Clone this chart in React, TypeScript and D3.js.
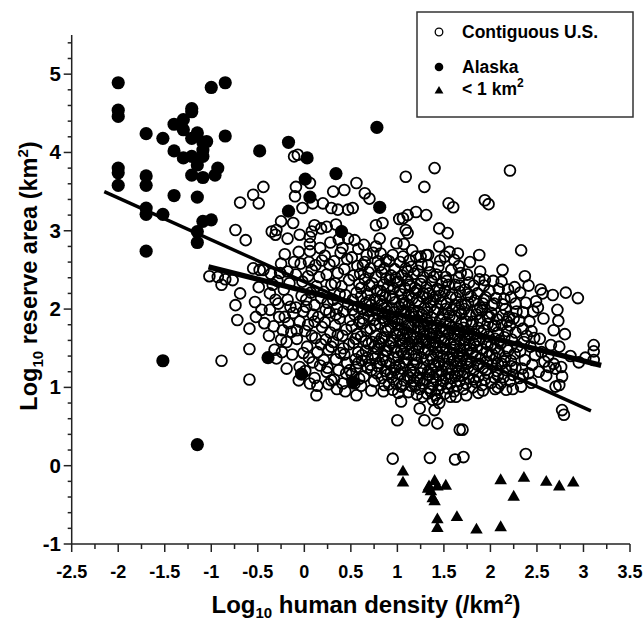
import React from "react";
import * as d3 from "d3";

// log10 human density (x) vs log10 reserve area (y)
const alaska: [number, number][] = [
  [-2.0, 4.89], [-2.0, 4.54], [-2.0, 4.46], [-2.0, 3.8], [-2.0, 3.74], [-2.0, 3.58],
  [-1.7, 4.24], [-1.7, 3.7], [-1.7, 3.58], [-1.7, 3.29], [-1.7, 3.21], [-1.7, 2.74],
  [-1.52, 4.18], [-1.52, 3.21], [-1.52, 1.34],
  [-1.4, 4.36], [-1.4, 4.02], [-1.4, 3.45],
  [-1.3, 4.42], [-1.3, 4.29], [-1.3, 3.93],
  [-1.21, 4.56], [-1.21, 4.52], [-1.21, 4.18], [-1.21, 3.95], [-1.21, 3.71],
  [-1.15, 4.25], [-1.15, 3.84], [-1.15, 3.43], [-1.15, 2.99], [-1.15, 2.85], [-1.15, 0.27],
  [-1.09, 4.13], [-1.09, 4.03], [-1.09, 3.95], [-1.09, 3.68], [-1.09, 3.12], [-1.05, 4.14],
  [-1.0, 3.14], [-1.0, 4.83], [-0.85, 4.89], [-0.85, 4.21], [-0.93, 3.8], [-0.96, 3.71],
  [-0.48, 4.02], [-0.17, 4.13], [0.03, 3.93], [0.01, 3.66], [0.06, 3.43], [-0.17, 3.25],
  [0.34, 3.73], [0.4, 2.99], [0.78, 4.32], [0.81, 3.3],
  [-0.39, 1.38], [-0.03, 1.17], [0.52, 1.07],
];

const underOneKm: [number, number][] = [
  [1.06, -0.08], [1.06, -0.22], [1.33, -0.3], [1.34, -0.27], [1.4, -0.2], [1.43, -0.27],
  [1.52, -0.26], [1.36, -0.33], [1.38, -0.42], [1.4, -0.46], [1.43, -0.69], [1.43, -0.8],
  [1.64, -0.66], [1.85, -0.82], [2.11, -0.79], [2.25, -0.4], [2.11, -0.19], [2.36, -0.16],
  [2.6, -0.21], [2.74, -0.27], [2.89, -0.22],
];

const usOuter: [number, number][] = [
  [-1.02, 2.42], [-0.93, 2.41], [-0.89, 2.31], [-0.85, 2.38], [-0.77, 2.37], [-0.89, 1.34],
  [-0.74, 3.01], [-0.74, 2.05], [-0.69, 3.36], [-0.69, 2.2], [-0.72, 1.86], [-0.63, 2.88],
  [-0.59, 1.49], [-0.59, 1.1], [-0.59, 1.75], [-0.55, 3.46], [-0.55, 2.52], [-0.53, 2.09],
  [-0.49, 3.35], [-0.48, 2.5], [-0.46, 1.99], [-0.44, 3.56], [-0.44, 2.5], [-0.52, 1.9],
  [-0.43, 1.82], [-0.49, 2.28],
  [-0.11, 3.95], [-0.07, 3.97], [-0.09, 3.56], [-0.1, 3.44], [0.06, 3.61], [0.09, 3.35],
  [-0.02, 3.29], [0.2, 3.35], [0.31, 3.5], [0.43, 3.52], [0.56, 3.61], [0.65, 3.48],
  [0.7, 3.41], [0.29, 3.29], [0.36, 3.27], [0.47, 3.27], [0.52, 3.29], [0.77, 3.07],
  [0.84, 3.1], [1.02, 3.15], [-0.25, 3.12], [-0.12, 3.1], [-0.35, 2.99], [-0.31, 2.95],
  [-0.3, 3.01], [-0.18, 2.9], [-0.05, 2.95], [0.08, 2.99], [0.18, 3.03], [0.11, 3.07],
  [0.24, 3.05], [0.34, 3.08], [0.4, 2.99],
  [1.09, 3.69], [1.4, 3.8], [1.29, 3.56], [1.06, 3.16], [1.11, 3.2], [1.2, 3.24],
  [1.31, 3.2], [1.09, 3.01], [1.45, 3.03], [1.54, 2.97], [1.55, 3.35], [1.6, 3.3],
  [1.98, 3.34], [1.94, 3.39], [2.21, 3.77], [2.33, 2.75], [1.88, 2.69], [2.13, 2.5],
  [0.99, 2.84], [1.11, 2.97], [1.16, 2.75], [1.45, 2.8], [1.51, 2.67], [1.56, 2.73],
  [1.0, 0.58], [1.29, 0.58], [1.24, 0.73], [1.38, 0.84], [1.4, 0.71], [1.43, 0.54],
  [1.45, 0.8], [1.63, 0.88], [1.67, 0.46], [1.7, 0.46], [0.95, 0.09], [1.62, 0.08],
  [1.71, 0.11], [2.38, 0.15], [2.77, 0.71], [2.79, 0.65], [0.56, 0.9], [0.13, 0.9],
  [-0.3, 1.37], [-0.19, 1.24], [-0.06, 1.09],
];

const usCoreLeft: [number, number][] = [
  [-0.37, 2.2], [-0.34, 2.31], [-0.37, 1.99], [-0.32, 1.48], [-0.38, 1.66], [-0.33, 1.78],
  [-0.36, 2.45], [-0.31, 2.12], [-0.28, 2.07], [-0.26, 2.46], [-0.25, 2.58], [-0.23, 1.73],
  [-0.25, 1.61], [-0.27, 1.9], [-0.22, 2.25], [-0.29, 2.36], [-0.24, 1.45], [-0.21, 2.7],
  [-0.18, 2.12], [-0.21, 1.9], [-0.19, 1.58], [-0.14, 1.71], [-0.12, 1.95], [-0.18, 2.48],
  [-0.16, 2.33], [-0.13, 1.42], [-0.11, 2.6], [-0.15, 2.03], [-0.17, 1.82],
  [-0.05, 1.84], [-0.05, 1.26], [-0.01, 1.44], [-0.09, 2.44], [-0.06, 2.73], [-0.08, 1.62],
  [-0.03, 2.17], [-0.09, 2.02], [-0.02, 2.35], [-0.04, 2.58], [-0.08, 1.73], [-0.01, 1.97],
  [0.04, 1.8], [0.02, 2.03], [0.06, 1.05], [0.09, 1.32], [0.06, 2.92], [0.06, 2.83],
  [0.06, 2.74], [0.05, 2.6], [0.03, 1.52], [0.08, 1.66], [0.01, 1.21], [0.07, 2.21],
  [0.04, 2.42], [0.09, 1.93], [0.02, 2.12], [0.05, 1.38], [0.08, 2.5], [0.01, 1.72],
  [0.11, 1.12], [0.14, 1.45], [0.17, 1.28], [0.12, 1.63], [0.19, 1.77], [0.15, 1.9],
  [0.11, 2.05], [0.18, 2.14], [0.13, 2.29], [0.16, 2.41], [0.12, 2.56], [0.19, 2.62],
  [0.14, 1.02], [0.17, 2.78], [0.11, 1.84], [0.18, 1.55],
  [0.24, 1.2], [0.29, 1.09], [0.21, 1.35], [0.26, 1.48], [0.23, 1.61], [0.28, 1.7],
  [0.22, 1.83], [0.27, 1.96], [0.25, 2.08], [0.21, 2.22], [0.29, 2.31], [0.24, 2.44],
  [0.27, 2.57], [0.22, 2.68], [0.26, 1.04], [0.28, 2.85], [0.23, 1.99], [0.29, 1.52],
  [0.25, 1.25],
  [0.32, 1.1], [0.37, 1.22], [0.34, 1.36], [0.39, 1.44], [0.31, 1.58], [0.36, 1.67],
  [0.33, 1.79], [0.38, 1.88], [0.35, 2.01], [0.31, 2.12], [0.38, 2.19], [0.33, 2.33],
  [0.36, 2.46], [0.32, 2.61], [0.39, 2.72], [0.35, 0.98], [0.37, 2.89], [0.34, 1.93],
  [0.45, 1.18], [0.41, 1.05], [0.46, 1.31], [0.43, 1.42], [0.48, 1.55], [0.41, 1.66],
  [0.45, 1.74], [0.49, 1.86], [0.42, 1.97], [0.47, 2.06], [0.44, 2.18], [0.4, 2.29],
  [0.48, 2.37], [0.43, 2.51], [0.46, 2.64], [0.41, 2.78], [0.49, 1.22], [0.44, 0.95],
  [0.47, 2.9], [0.42, 1.5],
];

const usCoreMid: [number, number][] = [
  [0.56, 1.26], [0.54, 1.05], [0.51, 1.17], [0.55, 1.36], [0.58, 1.45], [0.53, 1.57],
  [0.57, 1.68], [0.51, 1.78], [0.59, 1.84], [0.54, 1.93], [0.58, 2.03], [0.52, 2.12],
  [0.56, 2.21], [0.59, 2.32], [0.53, 2.43], [0.57, 2.55], [0.51, 2.66], [0.58, 2.77],
  [0.55, 1.62], [0.52, 1.99], [0.59, 1.11], [0.54, 2.88],
  [0.65, 2.6], [0.61, 1.02], [0.64, 1.14], [0.68, 1.25], [0.62, 1.34], [0.66, 1.47],
  [0.69, 1.56], [0.61, 1.65], [0.67, 1.73], [0.63, 1.82], [0.69, 1.91], [0.62, 2.0],
  [0.66, 2.08], [0.68, 2.19], [0.61, 2.27], [0.65, 2.38], [0.69, 2.47], [0.63, 2.56],
  [0.67, 2.69], [0.62, 1.41], [0.68, 1.98], [0.64, 2.82],
  [0.77, 2.8], [0.72, 0.96], [0.75, 1.08], [0.78, 1.18], [0.71, 1.29], [0.76, 1.37],
  [0.79, 1.49], [0.73, 1.58], [0.77, 1.66], [0.71, 1.75], [0.75, 1.86], [0.79, 1.94],
  [0.72, 2.05], [0.76, 2.13], [0.78, 2.24], [0.73, 2.33], [0.77, 2.41], [0.71, 2.52],
  [0.79, 2.61], [0.74, 2.72], [0.75, 1.52], [0.78, 2.0], [0.72, 1.22],
  [0.81, 2.9], [0.82, 2.71], [0.88, 2.63], [0.81, 2.56], [0.86, 1.03], [0.83, 1.12],
  [0.87, 1.21], [0.81, 1.31], [0.85, 1.4], [0.89, 1.47], [0.82, 1.56], [0.86, 1.64],
  [0.88, 1.72], [0.81, 1.81], [0.84, 1.89], [0.89, 1.97], [0.83, 2.06], [0.87, 2.15],
  [0.82, 2.23], [0.85, 2.31], [0.88, 2.39], [0.83, 2.47], [0.86, 2.52], [0.89, 1.16],
  [0.84, 1.35], [0.87, 1.85], [0.81, 2.11], [0.85, 0.95],
  [0.95, 0.97], [0.91, 1.04], [0.94, 1.13], [0.97, 1.22], [0.92, 1.3], [0.96, 1.38],
  [0.99, 1.45], [0.91, 1.53], [0.95, 1.6], [0.98, 1.69], [0.93, 1.77], [0.97, 1.84],
  [0.91, 1.92], [0.94, 2.01], [0.98, 2.09], [0.92, 2.17], [0.96, 2.26], [0.99, 2.34],
  [0.93, 2.43], [0.97, 2.51], [0.91, 2.61], [0.95, 2.69], [0.98, 1.26], [0.93, 1.57],
  [0.96, 1.96], [0.92, 2.37], [0.99, 1.05],
  [1.06, 1.03], [1.06, 2.67], [1.01, 0.93], [1.04, 1.01], [1.07, 1.09], [1.02, 1.17],
  [1.05, 1.24], [1.08, 1.32], [1.01, 1.39], [1.04, 1.46], [1.09, 1.52], [1.03, 1.6],
  [1.06, 1.67], [1.08, 1.74], [1.01, 1.81], [1.05, 1.88], [1.09, 1.96], [1.02, 2.03],
  [1.06, 2.11], [1.04, 2.19], [1.08, 2.27], [1.01, 2.35], [1.05, 2.43], [1.09, 2.52],
  [1.03, 2.6], [1.07, 1.43], [1.02, 1.73], [1.08, 2.08], [1.04, 0.82], [1.07, 2.83],
  [1.12, 0.94], [1.15, 1.02], [1.18, 1.08], [1.11, 1.15], [1.14, 1.22], [1.17, 1.29],
  [1.19, 1.36], [1.12, 1.42], [1.16, 1.49], [1.13, 1.56], [1.18, 1.63], [1.11, 1.7],
  [1.15, 1.77], [1.19, 1.84], [1.13, 1.91], [1.17, 1.98], [1.12, 2.05], [1.16, 2.13],
  [1.19, 2.21], [1.14, 2.29], [1.11, 2.37], [1.18, 2.45], [1.15, 2.54], [1.13, 2.62],
  [1.17, 1.19], [1.14, 1.66], [1.19, 1.02], [1.12, 2.18],
];

const usCoreRight: [number, number][] = [
  [1.2, 2.67], [1.25, 2.67], [1.21, 0.91], [1.24, 0.98], [1.27, 1.05], [1.22, 1.12],
  [1.25, 1.18], [1.28, 1.25], [1.21, 1.31], [1.26, 1.38], [1.29, 1.44], [1.23, 1.51],
  [1.27, 1.58], [1.21, 1.64], [1.24, 1.71], [1.28, 1.78], [1.22, 1.85], [1.26, 1.93],
  [1.29, 2.01], [1.23, 2.08], [1.27, 2.16], [1.21, 2.24], [1.25, 2.32], [1.28, 2.41],
  [1.22, 2.49], [1.26, 2.57], [1.24, 1.09], [1.28, 1.68], [1.23, 1.97], [1.27, 0.88],
  [1.33, 2.69], [1.31, 2.69], [1.35, 0.1], [1.32, 0.92], [1.35, 0.99], [1.38, 1.04],
  [1.31, 1.1], [1.34, 1.16], [1.37, 1.23], [1.39, 1.29], [1.32, 1.35], [1.36, 1.41],
  [1.33, 1.48], [1.38, 1.54], [1.31, 1.61], [1.35, 1.68], [1.39, 1.75], [1.33, 1.82],
  [1.37, 1.89], [1.32, 1.96], [1.36, 2.04], [1.39, 2.12], [1.34, 2.2], [1.31, 2.28],
  [1.37, 2.36], [1.35, 2.47], [1.33, 2.56], [1.38, 1.13], [1.34, 1.58], [1.36, 0.95],
  [1.42, 2.44], [1.41, 0.9], [1.44, 0.97], [1.47, 1.03], [1.42, 1.09], [1.45, 1.15],
  [1.48, 1.21], [1.41, 1.27], [1.44, 1.33], [1.49, 1.39], [1.43, 1.45], [1.46, 1.52],
  [1.41, 1.58], [1.45, 1.65], [1.48, 1.72], [1.42, 1.79], [1.46, 1.86], [1.49, 1.93],
  [1.43, 2.0], [1.47, 2.08], [1.41, 2.16], [1.45, 2.24], [1.48, 2.33], [1.44, 2.54],
  [1.46, 2.62], [1.42, 1.2], [1.47, 1.62], [1.43, 0.85],
  [1.52, 2.41], [1.51, 0.92], [1.54, 0.99], [1.57, 1.05], [1.52, 1.11], [1.55, 1.17],
  [1.58, 1.23], [1.51, 1.3], [1.56, 1.36], [1.59, 1.42], [1.53, 1.48], [1.57, 1.55],
  [1.51, 1.62], [1.55, 1.69], [1.58, 1.76], [1.52, 1.83], [1.56, 1.91], [1.59, 1.99],
  [1.53, 2.07], [1.57, 2.15], [1.51, 2.23], [1.55, 2.31], [1.58, 2.5], [1.54, 1.26],
  [1.52, 1.72], [1.57, 0.88],
  [1.61, 2.63], [1.65, 2.71], [1.68, 2.46], [1.61, 0.95], [1.64, 1.02], [1.67, 1.08],
  [1.62, 1.14], [1.66, 1.21], [1.69, 1.27], [1.61, 1.34], [1.65, 1.4], [1.68, 1.47],
  [1.63, 1.54], [1.67, 1.61], [1.61, 1.68], [1.64, 1.75], [1.69, 1.83], [1.62, 1.9],
  [1.66, 1.98], [1.69, 2.06], [1.63, 2.14], [1.67, 2.22], [1.62, 2.31], [1.66, 2.4],
  [1.64, 1.18], [1.68, 1.7], [1.66, 2.55],
  [1.75, 2.44], [1.71, 0.98], [1.74, 1.05], [1.77, 1.12], [1.72, 1.19], [1.76, 1.26],
  [1.79, 1.33], [1.71, 1.4], [1.75, 1.47], [1.78, 1.54], [1.73, 1.61], [1.77, 1.69],
  [1.71, 1.76], [1.74, 1.84], [1.78, 1.92], [1.72, 2.0], [1.76, 2.08], [1.79, 2.16],
  [1.73, 2.25], [1.77, 2.34], [1.75, 1.3], [1.72, 1.55], [1.78, 2.6], [1.74, 0.9],
];

// extra sites crowded into the darkest part of the cloud
const usCoreDense: [number, number][] = [
  [0.58, 1.31], [0.63, 1.88], [0.66, 1.59], [0.7, 2.11], [0.74, 1.43], [0.76, 1.79],
  [0.79, 1.27], [0.83, 1.63], [0.86, 2.01], [0.88, 1.33], [0.9, 1.74], [0.93, 1.19],
  [0.95, 2.13], [0.97, 1.51], [1.0, 1.87], [1.02, 1.29], [1.03, 2.24], [1.05, 1.56],
  [1.07, 1.97], [1.1, 1.36], [1.11, 1.79], [1.13, 2.31], [1.14, 1.12], [1.16, 1.58],
  [1.18, 1.9], [1.2, 1.41], [1.21, 2.11], [1.23, 1.76], [1.25, 1.24], [1.26, 1.62],
  [1.28, 2.2], [1.3, 1.48], [1.31, 1.86], [1.33, 1.2], [1.35, 2.09], [1.37, 1.64],
  [1.38, 1.36], [1.4, 1.96], [1.41, 1.51], [1.43, 2.26], [1.45, 1.3], [1.47, 1.77],
  [1.49, 1.08], [1.5, 1.58], [1.52, 2.0], [1.54, 1.38], [1.56, 1.8], [1.58, 1.12],
  [1.6, 1.51], [1.62, 2.05], [1.63, 1.27], [1.65, 1.66], [1.67, 1.43], [1.69, 1.94],
  [1.7, 1.15], [1.72, 1.71], [1.74, 1.35], [1.76, 2.19], [1.78, 1.49], [1.8, 1.8],
  [1.82, 1.1], [1.84, 1.6], [1.86, 1.99], [1.88, 1.3], [1.9, 1.69], [1.93, 2.12],
  [1.95, 1.22], [1.97, 1.55], [1.99, 1.9], [2.02, 1.42], [2.05, 1.79], [2.08, 1.15],
  [2.1, 1.6], [2.13, 2.06], [2.15, 1.33], [2.18, 1.5], [2.2, 1.9], [2.23, 1.27],
  [0.61, 2.16], [0.68, 1.38], [0.73, 1.98], [0.8, 1.58], [0.87, 1.47], [0.94, 1.88],
  [1.0, 1.66], [1.08, 1.62], [1.15, 1.95], [1.22, 1.55], [1.29, 1.72], [1.36, 1.76],
  [1.42, 1.69], [1.49, 1.5], [1.55, 1.95], [1.61, 1.61], [1.68, 1.33], [1.75, 1.64],
  [1.82, 1.56], [1.89, 1.85], [0.9, 2.28], [1.05, 2.06], [1.19, 2.27], [1.32, 2.14],
  [1.46, 2.17], [1.59, 2.19], [1.73, 2.05], [0.84, 2.18], [0.98, 2.4], [1.11, 2.48],
  [1.26, 2.36], [1.39, 2.41], [1.53, 2.36], [1.67, 2.3], [0.7, 2.3], [0.6, 2.45],
];

const usEast: [number, number][] = [
  [1.89, 2.48], [1.81, 1.0], [1.84, 1.07], [1.87, 1.14], [1.82, 1.22], [1.86, 1.29],
  [1.89, 1.37], [1.81, 1.44], [1.85, 1.52], [1.88, 1.6], [1.83, 1.68], [1.87, 1.76],
  [1.81, 1.84], [1.85, 1.93], [1.89, 2.02], [1.83, 2.11], [1.86, 2.2], [1.82, 2.3],
  [1.88, 2.38], [1.84, 1.4], [1.87, 0.93],
  [1.94, 2.37], [1.92, 2.07], [1.97, 1.9], [1.91, 1.03], [1.94, 1.1], [1.97, 1.18],
  [1.92, 1.25], [1.96, 1.33], [1.99, 1.41], [1.91, 1.49], [1.95, 1.57], [1.98, 1.65],
  [1.93, 1.73], [1.97, 1.81], [1.91, 1.98], [1.95, 2.15], [1.99, 2.23], [1.93, 2.3],
  [1.96, 1.45], [1.92, 0.96],
  [2.02, 2.05], [2.04, 2.07], [2.05, 1.5], [2.08, 1.3], [2.01, 1.06], [2.04, 1.13],
  [2.07, 1.21], [2.02, 1.29], [2.06, 1.37], [2.09, 1.45], [2.01, 1.54], [2.05, 1.62],
  [2.08, 1.7], [2.03, 1.78], [2.07, 1.87], [2.01, 1.95], [2.06, 2.14], [2.09, 2.26],
  [2.03, 2.36], [2.05, 0.98], [2.08, 1.0],
  [2.15, 2.13], [2.13, 1.92], [2.18, 1.84], [2.11, 1.05], [2.14, 1.13], [2.17, 1.22],
  [2.12, 1.3], [2.16, 1.39], [2.19, 1.47], [2.11, 1.56], [2.15, 1.64], [2.18, 1.72],
  [2.12, 1.8], [2.16, 2.0], [2.19, 2.25], [2.12, 2.35], [2.17, 0.97],
  [2.27, 2.07], [2.21, 1.08], [2.24, 1.16], [2.27, 1.25], [2.22, 1.34], [2.26, 1.43],
  [2.29, 1.52], [2.23, 1.61], [2.27, 1.7], [2.21, 1.79], [2.25, 1.88], [2.28, 1.97],
  [2.22, 2.15], [2.26, 2.28], [2.24, 0.98],
  [2.35, 1.75], [2.35, 1.16], [2.33, 1.01], [2.31, 1.12], [2.34, 1.24], [2.37, 1.35],
  [2.32, 1.46], [2.36, 1.58], [2.39, 1.66], [2.31, 1.85], [2.35, 1.96], [2.38, 2.08],
  [2.32, 2.21], [2.37, 2.42],
  [2.44, 1.72], [2.41, 1.18], [2.45, 1.29], [2.48, 1.41], [2.43, 1.52], [2.47, 1.63],
  [2.42, 1.84], [2.46, 1.97], [2.49, 2.1], [2.44, 1.06], [2.41, 2.3],
  [2.58, 1.33], [2.63, 1.26], [2.7, 1.24], [2.76, 1.26], [2.77, 1.14], [2.74, 1.03],
  [2.7, 1.01], [2.65, 1.54], [2.74, 1.52], [2.68, 1.73], [2.8, 1.68], [2.72, 1.99],
  [2.73, 1.85], [2.67, 2.18], [2.81, 2.21], [2.94, 2.14], [3.11, 1.54], [3.11, 1.46],
  [3.11, 1.35], [2.52, 1.2], [2.55, 1.45], [2.53, 1.62], [2.57, 1.88], [2.51, 2.02],
  [2.56, 2.2], [2.62, 1.4], [2.68, 1.3], [2.86, 1.4], [2.95, 1.32], [3.02, 1.38],
  [2.54, 2.25], [2.6, 1.15],
];

const contiguous = [
  ...usOuter, ...usCoreLeft, ...usCoreMid, ...usCoreRight, ...usCoreDense, ...usEast,
];

// regression fits (endpoints)
const fitAll: [number, number][] = [[-2.15, 3.5], [3.08, 0.7]];
const fitContiguous: [number, number][] = [[-1.03, 2.54], [3.19, 1.28]];

const xMajor = [-2.5, -2, -1.5, -1, -0.5, 0, 0.5, 1, 1.5, 2, 2.5, 3, 3.5];
const yMajor = [-1, 0, 1, 2, 3, 4, 5];

const W = 644;
const H = 624;
const font = "'Liberation Sans', Arial, Helvetica, sans-serif";

export default function App() {
  const x = d3.scaleLinear().domain([-2.5, 3.5]).range([71.7, 630]);
  const y = d3.scaleLinear().domain([-1, 5.5]).range([544, 35]);
  const line = d3.line<[number, number]>().x((d) => x(d[0])).y((d) => y(d[1]));
  const tri = d3.symbol().type(d3.symbolTriangle).size(68)() as string;
  const triSmall = d3.symbol().type(d3.symbolTriangle).size(34)() as string;

  const xMinor = d3.range(-2.25, 3.5, 0.5);
  const yMinor = d3.range(-1, 5.5, 0.2).filter((v) => Math.abs(v - Math.round(v)) > 0.01);

  return (
    <div style={{ position: "absolute", left: 0, top: 0 }}>
      <svg width={W} height={H} style={{ display: "block", background: "#fff" }}>
        <g fill="none" stroke="#000" strokeWidth={1.8}>
          {contiguous.map((d, i) => (
            <circle key={i} cx={x(d[0])} cy={y(d[1])} r={5.4} />
          ))}
        </g>
        <g fill="#000">
          {alaska.map((d, i) => (
            <circle key={i} cx={x(d[0])} cy={y(d[1])} r={6.6} />
          ))}
          {underOneKm.map((d, i) => (
            <path key={i} d={tri} transform={`translate(${x(d[0])},${y(d[1])})`} />
          ))}
        </g>
        <path d={line(fitAll) ?? ""} stroke="#000" strokeWidth={3.4} fill="none" />
        <path d={line(fitContiguous) ?? ""} stroke="#000" strokeWidth={5.4} fill="none" />

        {/* axes */}
        <g stroke="#222" strokeWidth={1.5}>
          <line x1={x(-2.5)} x2={x(-2.5)} y1={y(5.5)} y2={y(-1)} />
          <line x1={x(-2.5)} x2={x(3.5)} y1={y(-1)} y2={y(-1)} />
          {xMajor.map((v) => (
            <line key={"xm" + v} x1={x(v)} x2={x(v)} y1={y(-1)} y2={y(-1) + 8} />
          ))}
          {xMinor.map((v) => (
            <line key={"xn" + v} x1={x(v)} x2={x(v)} y1={y(-1)} y2={y(-1) + 5} />
          ))}
          {yMajor.map((v) => (
            <line key={"ym" + v} x1={x(-2.5) - 8} x2={x(-2.5)} y1={y(v)} y2={y(v)} />
          ))}
          {yMinor.map((v) => (
            <line key={"yn" + v.toFixed(1)} x1={x(-2.5) - 4} x2={x(-2.5)} y1={y(v)} y2={y(v)} />
          ))}
        </g>
        <g fontFamily={font} fontWeight="bold" fill="#000">
          {xMajor.map((v) => (
            <text key={"xl" + v} x={x(v)} y={578} fontSize={18} textAnchor="middle">
              {v}
            </text>
          ))}
          {yMajor.map((v) => (
            <text key={"yl" + v} x={61} y={y(v) + 7} fontSize={20.5} textAnchor="end">
              {v}
            </text>
          ))}
          <text x={366} y={613} fontSize={24} textAnchor="middle">
            Log<tspan fontSize={15} dy={5}>10</tspan>
            <tspan dy={-5}> human density (/km</tspan>
            <tspan fontSize={15} dy={-9}>2</tspan>
            <tspan dy={9}>)</tspan>
          </text>
          <text transform="translate(37,276) rotate(-90)" fontSize={23.5} textAnchor="middle">
            Log<tspan fontSize={15} dy={6}>10</tspan>
            <tspan dy={-6}> reserve area (km</tspan>
            <tspan fontSize={15} dy={-9}>2</tspan>
            <tspan dy={9}>)</tspan>
          </text>
        </g>

        {/* legend */}
        <rect x={417} y={12} width={216} height={105} fill="#fff" stroke="#333" strokeWidth={1.5} />
        <circle cx={439} cy={32} r={3.8} fill="none" stroke="#000" strokeWidth={1.3} />
        <circle cx={439} cy={67} r={4.3} fill="#000" />
        <path d={triSmall} transform="translate(439,91)" fill="#000" />
        <g fontFamily={font} fontWeight="bold" fontSize={17.5} fill="#000">
          <text x={462} y={38}>Contiguous U.S.</text>
          <text x={462} y={73}>Alaska</text>
          <text x={462} y={95}>
            {"< 1 km"}
            <tspan fontSize={12} dy={-8}>2</tspan>
          </text>
        </g>
      </svg>
    </div>
  );
}
